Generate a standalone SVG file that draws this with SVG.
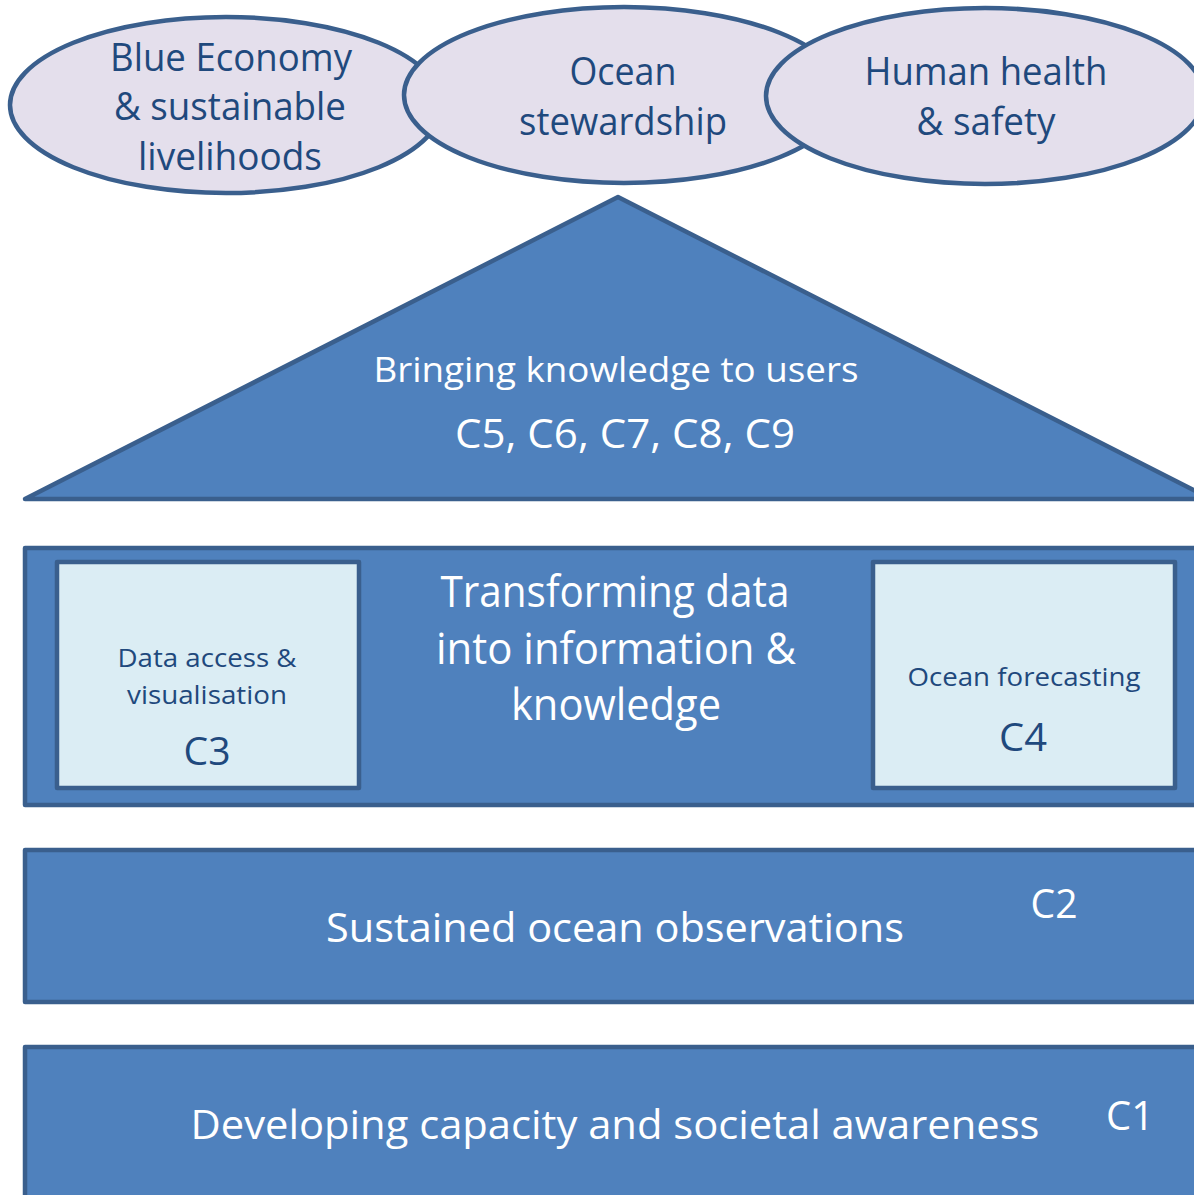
<svg xmlns="http://www.w3.org/2000/svg" width="1194" height="1195" viewBox="0 0 1194 1195">
  <style>
    .goal { fill: #E4DFEC; stroke: #3A5F8D; stroke-width: 4.5; }
    .tier { fill: #4F81BD; stroke: #3A5F8D; stroke-width: 4.5; stroke-linejoin: round; }
    .inner { fill: #DBEDF4; stroke: #3A5F8D; stroke-width: 4.5; stroke-linejoin: round; }
    text { font-family: "Open Sans", "Noto Sans", "Liberation Sans", sans-serif; text-anchor: middle; }
    .dark { fill: #1F497D; }
    .light { fill: #FFFFFF; }
  </style>

  <rect width="1194" height="1195" fill="#FFFFFF"/>

  <!-- outcome ellipses along the top -->
  <g id="goal-blue-economy">
    <ellipse class="goal" cx="226" cy="105" rx="216" ry="88"/>
    <text class="dark" font-size="38" x="231" y="71" textLength="242" lengthAdjust="spacingAndGlyphs">Blue Economy</text>
    <text class="dark" font-size="38" x="230" y="120" textLength="232" lengthAdjust="spacingAndGlyphs">&amp; sustainable</text>
    <text class="dark" font-size="38" x="230" y="170" textLength="184" lengthAdjust="spacingAndGlyphs">livelihoods</text>
  </g>
  <g id="goal-stewardship">
    <ellipse class="goal" cx="624" cy="95" rx="220" ry="88"/>
    <text class="dark" font-size="38" x="623" y="85" textLength="107" lengthAdjust="spacingAndGlyphs">Ocean</text>
    <text class="dark" font-size="38" x="623" y="135" textLength="208" lengthAdjust="spacingAndGlyphs">stewardship</text>
  </g>
  <g id="goal-health">
    <ellipse class="goal" cx="985" cy="96" rx="219" ry="88"/>
    <text class="dark" font-size="38" x="986" y="85" textLength="243" lengthAdjust="spacingAndGlyphs">Human health</text>
    <text class="dark" font-size="38" x="986" y="135" textLength="139" lengthAdjust="spacingAndGlyphs">&amp; safety</text>
  </g>

  <!-- roof -->
  <g id="tier-users">
    <polygon class="tier" points="618,197 1211,499 25,499"/>
    <text class="light" font-size="35" x="616" y="382" textLength="485" lengthAdjust="spacingAndGlyphs">Bringing knowledge to users</text>
    <text class="light" font-size="40" x="625" y="448" textLength="340" lengthAdjust="spacingAndGlyphs">C5, C6, C7, C8, C9</text>
  </g>

  <!-- information tier with its two components -->
  <g id="tier-information">
    <rect class="tier" x="25" y="548" width="1190" height="257"/>
    <text class="light" font-size="44" x="615" y="607" textLength="349" lengthAdjust="spacingAndGlyphs">Transforming data</text>
    <text class="light" font-size="44" x="616" y="664" textLength="360" lengthAdjust="spacingAndGlyphs">into information &amp;</text>
    <text class="light" font-size="44" x="616" y="720" textLength="210" lengthAdjust="spacingAndGlyphs">knowledge</text>
  </g>
  <g id="component-c3">
    <rect class="inner" x="57" y="562" width="302" height="226"/>
    <text class="dark" font-size="25" x="207" y="667" textLength="179" lengthAdjust="spacingAndGlyphs">Data access &amp;</text>
    <text class="dark" font-size="25" x="207" y="704" textLength="160" lengthAdjust="spacingAndGlyphs">visualisation</text>
    <text class="dark" font-size="38" x="207" y="765" textLength="47" lengthAdjust="spacingAndGlyphs">C3</text>
  </g>
  <g id="component-c4">
    <rect class="inner" x="873" y="562" width="302" height="226"/>
    <text class="dark" font-size="25" x="1024" y="686" textLength="233" lengthAdjust="spacingAndGlyphs">Ocean forecasting</text>
    <text class="dark" font-size="38" x="1023" y="751" textLength="48" lengthAdjust="spacingAndGlyphs">C4</text>
  </g>

  <!-- observations tier -->
  <g id="tier-observations">
    <rect class="tier" x="25" y="850" width="1190" height="152"/>
    <text class="light" font-size="40" x="615" y="942" textLength="578" lengthAdjust="spacingAndGlyphs">Sustained ocean observations</text>
    <text class="light" font-size="40" x="1054" y="918" textLength="47" lengthAdjust="spacingAndGlyphs">C2</text>
  </g>

  <!-- capacity foundation -->
  <g id="tier-capacity">
    <rect class="tier" x="25" y="1047" width="1190" height="170"/>
    <text class="light" font-size="40" x="615" y="1139" textLength="849" lengthAdjust="spacingAndGlyphs">Developing capacity and societal awareness</text>
    <text class="light" font-size="40" x="1130" y="1130" textLength="48" lengthAdjust="spacingAndGlyphs">C1</text>
  </g>

  <g id="connectors"/>
</svg>
